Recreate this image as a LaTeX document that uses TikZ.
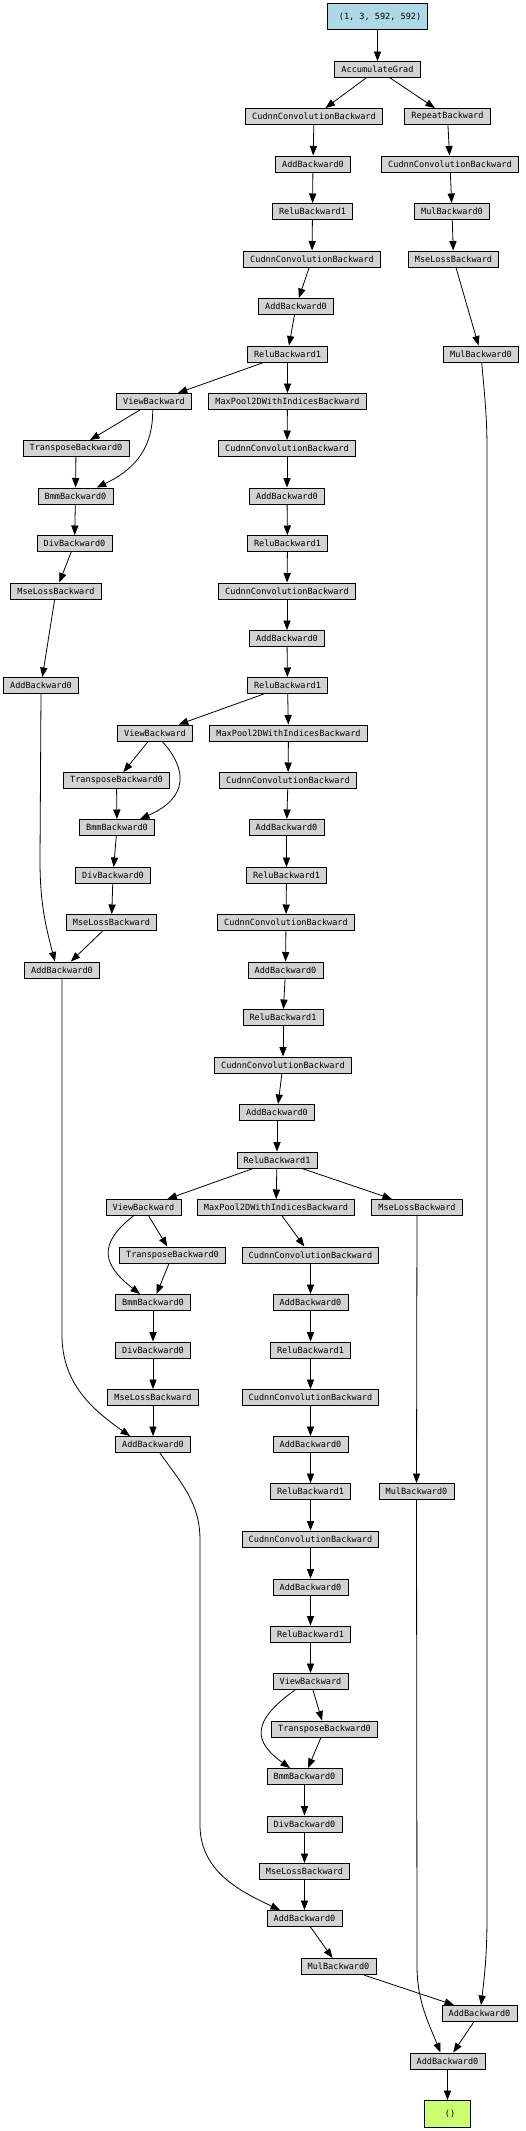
\documentclass[tikz,border=0pt]{standalone}
\usepackage{fontspec}
\newfontfamily\gvmono{DejaVu Sans Mono}
\usetikzlibrary{arrows.meta}
\definecolor{gvgray}{HTML}{D3D3D3}
\definecolor{gvblue}{HTML}{ADD8E6}
\definecolor{gvgreen}{HTML}{CAFF70}
\begin{document}
\begin{tikzpicture}[x=1pt,y=-1pt,
  fn/.style={draw=black, line width=0.8pt, fill=gvgray, inner xsep=6.6pt, inner ysep=0pt, minimum height=16.2pt, font=\gvmono\fontsize{8.55}{10}\selectfont},
  leaf/.style={fn, fill=gvblue, minimum height=26.2pt},
  rootnode/.style={fn, fill=gvgreen, minimum height=27.2pt, minimum width=46.2pt},
  edge/.style={draw=black, line width=0.8pt, -{Triangle[length=9.5pt,width=7.2pt]}},
]
\useasboundingbox[fill=white] (0,0) rectangle (526,2131);

% nodes
\node[leaf] (in) at (377.5,16.5) {\raisebox{-4pt}{\hphantom{0}(1, 3, 592, 592)}};
\node[fn] (ag) at (377.5,69.5) {AccumulateGrad};
\node[fn] (c1) at (314,116.5) {CudnnConvolutionBackward};
\node[fn] (rp) at (447.5,116.5) {RepeatBackward};
\node[fn] (ad1) at (313,164) {AddBackward0};
\node[fn] (cr) at (450,164) {CudnnConvolutionBackward};
\node[fn] (r1) at (312.5,211.5) {ReluBackward1};
\node[fn] (mr1) at (452,211.5) {MulBackward0};
\node[fn] (c2) at (312,259) {CudnnConvolutionBackward};
\node[fn] (msr) at (453.5,259) {MseLossBackward};
\node[fn] (ad2) at (296,306.5) {AddBackward0};
\node[fn] (r2) at (287.5,354) {ReluBackward1};
\node[fn] (mr2) at (481,354) {MulBackward0};
\node[fn] (v1) at (154,401.5) {ViewBackward};
\node[fn] (mp1) at (287.5,401.5) {MaxPool2DWithIndicesBackward};
\node[fn] (t1) at (76,448.5) {TransposeBackward0};
\node[fn] (c3) at (287,448.5) {CudnnConvolutionBackward};
\node[fn] (b1) at (75.5,496) {BmmBackward0};
\node[fn] (ad3) at (287,496) {AddBackward0};
\node[fn] (d1) at (74.5,543.5) {DivBackward0};
\node[fn] (r3) at (287.5,543.5) {ReluBackward1};
\node[fn] (ms1) at (56,591) {MseLossBackward};
\node[fn] (c4) at (287,591) {CudnnConvolutionBackward};
\node[fn] (ad4) at (287,638.5) {AddBackward0};
\node[fn] (la1) at (41,685.5) {AddBackward0};
\node[fn] (r4) at (287.5,685.5) {ReluBackward1};
\node[fn] (v2) at (155,733) {ViewBackward};
\node[fn] (mp2) at (288.5,733) {MaxPool2DWithIndicesBackward};
\node[fn] (t2) at (116.5,780.5) {TransposeBackward0};
\node[fn] (c5) at (288,780.5) {CudnnConvolutionBackward};
\node[fn] (b2) at (117,827.5) {BmmBackward0};
\node[fn] (ad5) at (286.5,827.5) {AddBackward0};
\node[fn] (d2) at (113,875.5) {DivBackward0};
\node[fn] (r5) at (286.5,875.5) {ReluBackward1};
\node[fn] (ms2) at (111.5,922.5) {MseLossBackward};
\node[fn] (c6) at (286,922.5) {CudnnConvolutionBackward};
\node[fn] (la2) at (62,970) {AddBackward0};
\node[fn] (ad6) at (285.5,970) {AddBackward0};
\node[fn] (r6) at (283,1017.5) {ReluBackward1};
\node[fn] (c7) at (283,1065) {CudnnConvolutionBackward};
\node[fn] (ad7) at (277,1112.5) {AddBackward0};
\node[fn] (r7) at (277,1160) {ReluBackward1};
\node[fn] (v3) at (143.5,1207.5) {ViewBackward};
\node[fn] (mp3) at (276,1207.5) {MaxPool2DWithIndicesBackward};
\node[fn] (ms3r) at (417,1207.5) {MseLossBackward};
\node[fn] (t3) at (172.5,1255) {TransposeBackward0};
\node[fn] (c8) at (310.5,1255) {CudnnConvolutionBackward};
\node[fn] (b3) at (153,1302.5) {BmmBackward0};
\node[fn] (ad8) at (310.5,1302.5) {AddBackward0};
\node[fn] (d3) at (153,1350) {DivBackward0};
\node[fn] (r8) at (310.5,1350) {ReluBackward1};
\node[fn] (ms3) at (153,1397.5) {MseLossBackward};
\node[fn] (c9) at (310.5,1397.5) {CudnnConvolutionBackward};
\node[fn] (la3) at (153,1444.5) {AddBackward0};
\node[fn] (ad9) at (310.5,1444.5) {AddBackward0};
\node[fn] (r9) at (310.5,1491.5) {ReluBackward1};
\node[fn] (m3) at (416.5,1491.5) {MulBackward0};
\node[fn] (c10) at (310.5,1539) {CudnnConvolutionBackward};
\node[fn] (ad10) at (310.5,1587) {AddBackward0};
\node[fn] (r10) at (310.5,1634) {ReluBackward1};
\node[fn] (v4) at (310.5,1681.5) {ViewBackward};
\node[fn] (t4) at (324.5,1729) {TransposeBackward0};
\node[fn] (b4) at (304.5,1776.5) {BmmBackward0};
\node[fn] (d4) at (304.5,1824) {DivBackward0};
\node[fn] (ms4) at (304.5,1871.5) {MseLossBackward};
\node[fn] (la4) at (304.5,1918.5) {AddBackward0};
\node[fn] (m4) at (338.5,1966.5) {MulBackward0};
\node[fn] (fa1) at (479.5,2013.5) {AddBackward0};
\node[fn] (fa2) at (447.5,2061) {AddBackward0};
\node[rootnode] (out) at (447.5,2114) {\raisebox{-3pt}{\hphantom{0}()}};

% straight edges
\foreach \a/\b in {in/ag, ag/c1, ag/rp, c1/ad1, rp/cr, ad1/r1, cr/mr1, r1/c2, mr1/msr,
  c2/ad2, msr/mr2, ad2/r2, r2/v1, r2/mp1, v1/t1, t1/b1, mp1/c3, c3/ad3, b1/d1, ad3/r3,
  d1/ms1, r3/c4, ms1/la1, c4/ad4, ad4/r4, r4/v2, r4/mp2, v2/t2, t2/b2, mp2/c5, c5/ad5,
  b2/d2, ad5/r5, d2/ms2, r5/c6, ms2/la2, c6/ad6, ad6/r6, r6/c7, c7/ad7, ad7/r7, r7/v3,
  r7/mp3, r7/ms3r, v3/t3, t3/b3, mp3/c8, c8/ad8, b3/d3, ad8/r8, d3/ms3, r8/c9, ms3/la3,
  c9/ad9, ad9/r9, ms3r/m3, r9/c10, c10/ad10, ad10/r10, r10/v4, v4/t4, t4/b4, b4/d4,
  d4/ms4, ms4/la4, la4/m4, m4/fa1, fa1/fa2, fa2/out}
  \draw[edge] (\a) -- (\b);

% curved view -> bmm edges
\draw[edge] ([xshift=-1.3pt]v1.south) .. controls (153,445) and (138,468) .. ([xshift=21.2pt]b1.north);
\draw[edge] ([xshift=7.3pt]v2.south) .. controls (188,770) and (188,798) .. ([xshift=23pt]b2.north);
\draw[edge] ([xshift=-10.2pt]v3.south) .. controls (96,1245) and (104,1266) .. ([xshift=-13pt]b3.north);
\draw[edge] ([xshift=-15.5pt]v4.south) .. controls (250,1722) and (254,1742) .. ([xshift=-14.5pt]b4.north);

% long edges
\draw[edge] (la1.south) -- (40,860) to[out=-90,in=105] ([xshift=-7pt]la2.north);
\draw[edge] (la2.south) -- (62,1335) to[out=-90,in=145] ([xshift=-23pt]la3.north);
\draw[edge] ([xshift=7pt]la3.south) to[out=-55,in=90] (200,1540) -- (200,1825) to[out=-90,in=155] ([xshift=-24.5pt]la4.north);
\draw[edge] (m3.south) -- (417,1965) to[out=-90,in=112] ([xshift=-7pt]fa2.north);
\draw[edge] ([xshift=0.7pt]mr2.south) to[out=-85,in=90] (487,450) -- (487,1915) to[out=-90,in=83] ([xshift=1.5pt]fa1.north);
\end{tikzpicture}
\end{document}
